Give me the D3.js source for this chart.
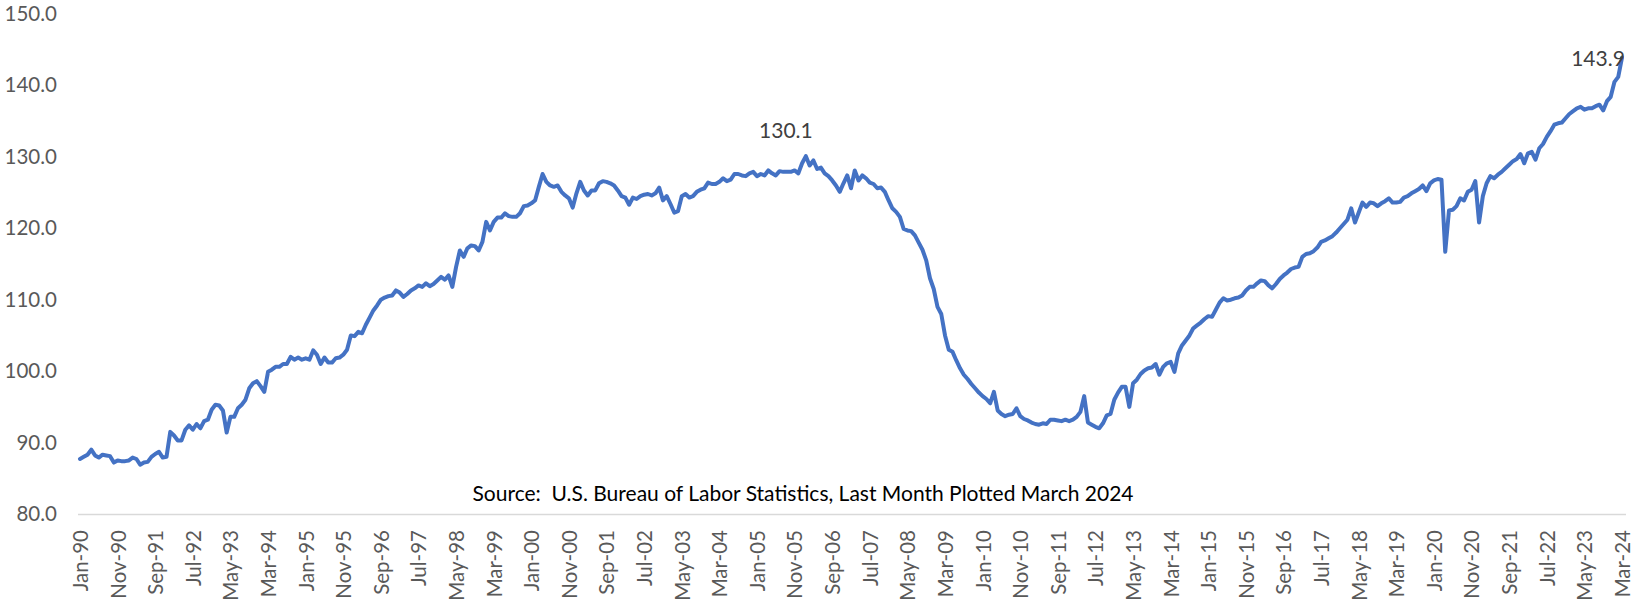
<!DOCTYPE html>
<html>
<head>
<meta charset="utf-8">
<script src="https://cdn.jsdelivr.net/npm/d3@7"></script>
<style>
  html, body { margin: 0; padding: 0; background: #ffffff; }
  svg { display: block; font-family: Lato, "Liberation Sans", sans-serif; }
</style>
</head>
<body>
<svg id="chart" width="1634" height="604"></svg>
<script>
// Monthly index values, January 1990 through March 2024
const values1990s = [
  87.7, 88.0, 88.3, 89.0, 88.2, 87.9, 88.3, 88.2, 88.1, 87.2, 87.5, 87.4,
  87.4, 87.5, 87.9, 87.7, 86.9, 87.2, 87.3, 88.0, 88.4, 88.7, 87.9, 88.0,
  91.5, 91.0, 90.3, 90.3, 91.8, 92.4, 91.8, 92.6, 92.0, 93.0, 93.2, 94.6,
  95.3, 95.2, 94.5, 91.4, 93.6, 93.6, 94.8, 95.3, 96.0, 97.6, 98.3, 98.6,
  97.9, 97.1, 99.9, 100.2, 100.6, 100.6, 101.0, 101.0, 102.0, 101.6, 101.9, 101.6,
  101.8, 101.6, 102.9, 102.3, 101.0, 101.9, 101.2, 101.2, 101.8, 101.9, 102.3, 103.0,
  105.0, 104.9, 105.5, 105.3, 106.5, 107.5, 108.5, 109.2, 110.0, 110.3, 110.5, 110.6,
  111.3, 111.0, 110.4, 110.8, 111.3, 111.6, 112.0, 111.8, 112.3, 111.9, 112.2, 112.7,
  113.2, 112.8, 113.4, 111.8, 114.6, 116.9, 116.0, 117.2, 117.6, 117.5, 116.9, 118.1,
  120.9, 119.7, 120.9, 121.5, 121.5, 122.1, 121.7, 121.6, 121.6, 122.1, 123.1, 123.2
];
const values2000s = [
  123.5, 123.9, 125.8, 127.6, 126.5, 126.0, 125.8, 126.0, 125.1, 124.6, 124.2, 122.9,
  124.9, 126.5, 125.3, 124.6, 125.3, 125.3, 126.3, 126.6, 126.5, 126.3, 126.0, 125.3,
  124.5, 124.3, 123.3, 124.3, 124.1, 124.5, 124.7, 124.8, 124.6, 124.9, 125.7, 123.9,
  124.5, 123.4, 122.2, 122.4, 124.5, 124.8, 124.3, 124.5, 125.1, 125.4, 125.6, 126.4,
  126.2, 126.2, 126.5, 127.0, 126.6, 126.8, 127.6, 127.6, 127.4, 127.3, 127.7, 127.9,
  127.3, 127.6, 127.4, 128.1, 127.7, 127.4, 128.0, 127.9, 127.9, 127.9, 128.1, 127.7,
  129.1, 130.1, 128.8, 129.5, 128.3, 128.5, 127.7, 127.3, 126.7, 126.0, 125.1, 126.3,
  127.4, 125.6, 128.1, 126.7, 127.4, 127.0, 126.4, 126.2, 125.6, 125.7, 125.1, 123.9,
  122.8, 122.3, 121.6, 119.9, 119.7, 119.6, 119.0, 118.0, 117.0, 115.5, 113.0, 111.5,
  109.0, 108.0, 105.0, 103.0, 102.7, 101.5, 100.4, 99.5, 98.9, 98.2, 97.6, 97.0
];
const values2010s = [
  96.5, 96.1, 95.5, 97.1, 94.5, 94.0, 93.7, 93.9, 94.0, 94.8, 93.7, 93.3,
  93.1, 92.8, 92.6, 92.5, 92.7, 92.6, 93.2, 93.2, 93.1, 93.0, 93.2, 93.0,
  93.2, 93.6, 94.3, 96.5, 92.8, 92.5, 92.2, 92.0, 92.7, 93.8, 94.0, 96.0,
  97.0, 97.8, 97.8, 95.0, 98.3, 98.8, 99.6, 100.1, 100.4, 100.5, 101.0, 99.5,
  100.6, 101.1, 101.3, 99.9, 102.5, 103.6, 104.3, 105.0, 106.0, 106.4, 106.8, 107.3,
  107.7, 107.6, 108.6, 109.6, 110.2, 109.9, 110.0, 110.2, 110.3, 110.6, 111.3, 111.8,
  111.8, 112.3, 112.7, 112.6, 112.0, 111.6, 112.2, 112.9, 113.4, 113.8, 114.3, 114.5,
  114.6, 116.0, 116.4, 116.5, 116.8, 117.3, 118.1, 118.3, 118.6, 118.9, 119.4, 120.0,
  120.6, 121.2, 122.8, 120.8, 122.2, 123.6, 123.0, 123.6, 123.5, 123.1, 123.5, 123.8,
  124.2, 123.6, 123.6, 123.7, 124.3, 124.5, 124.9, 125.2, 125.5, 126.0, 125.2, 126.3
];
const values2020s = [
  126.7, 126.9, 126.8, 116.7, 122.5, 122.6, 123.1, 124.2, 123.9, 125.1, 125.4, 126.6,
  120.8, 124.5, 126.3, 127.3, 127.0, 127.5, 127.9, 128.4, 128.9, 129.4, 129.7, 130.4,
  129.1, 130.5, 130.7, 129.6, 131.2, 131.8, 132.8, 133.6, 134.5, 134.7, 134.8, 135.4,
  136.0, 136.4, 136.8, 137.0, 136.6, 136.8, 136.8, 137.1, 137.3, 136.5, 137.8, 138.4,
  140.5, 141.2, 143.9
];

const firstYear = 1990;
const monthNames = ["Jan", "Feb", "Mar", "Apr", "May", "Jun", "Jul", "Aug", "Sep", "Oct", "Nov", "Dec"];
const yTicks = [80, 90, 100, 110, 120, 130, 140, 150];
const labelEvery = 10;               // one category label every ten months
const calloutMonths = ["Feb-06", "Mar-24"];
const sourceNote = "Source:  U.S. Bureau of Labor Statistics, Last Month Plotted March 2024";

const values = values1990s.concat(values2000s, values2010s, values2020s);
const categories = values.map((_, i) =>
  monthNames[i % 12] + "-" + String((firstYear + Math.floor(i / 12)) % 100).padStart(2, "0"));

const svg = d3.select("#chart");
const plot = { left: 80, right: 1622, top: 14, bottom: 514 };

const x = d3.scaleLinear().domain([0, values.length - 1]).range([plot.left, plot.right]);
const y = d3.scaleLinear().domain([80, 150]).range([plot.bottom, plot.top]);

// Value axis: labels only
const yAxis = svg.append("g")
  .attr("transform", `translate(${plot.left},0)`)
  .call(d3.axisLeft(y).tickValues(yTicks).tickSize(0).tickPadding(23)
    .tickFormat(d3.format(".1f")));
yAxis.select(".domain").remove();
yAxis.selectAll("text")
  .attr("font-family", "Lato, 'Liberation Sans', sans-serif")
  .attr("font-size", 20.5)
  .attr("fill", "#595959");

// Category axis: light baseline with rotated month labels
const tickIdx = d3.range(0, values.length, labelEvery);
const xAxis = svg.append("g")
  .attr("transform", `translate(0,${plot.bottom})`)
  .call(d3.axisBottom(x).tickValues(tickIdx).tickSize(0)
    .tickFormat(i => categories[i]));
xAxis.select(".domain")
  .attr("stroke", "#d9d9d9")
  .attr("stroke-width", 1.3)
  .attr("d", `M${plot.left - 2},0.5H${plot.right + 4}`);
xAxis.selectAll("text")
  .attr("font-family", "Lato, 'Liberation Sans', sans-serif")
  .attr("font-size", 20.5)
  .attr("fill", "#595959")
  .attr("text-anchor", "end")
  .attr("transform", "rotate(-90)")
  .attr("x", -16)
  .attr("y", 0)
  .attr("dy", "0.36em");

// Index line
const line = d3.line()
  .x((d, i) => x(i))
  .y(d => y(d));
svg.append("path")
  .datum(values)
  .attr("d", line)
  .attr("fill", "none")
  .attr("stroke", "#4472C4")
  .attr("stroke-width", 4)
  .attr("stroke-linejoin", "round")
  .attr("stroke-linecap", "round");

// Value callouts above the highlighted months
const calloutOffsets = { "Feb-06": [-20, -18], "Mar-24": [-24, 8] };
calloutMonths.forEach(m => {
  const i = categories.indexOf(m);
  const [dx, dy] = calloutOffsets[m];
  svg.append("text")
    .attr("x", x(i) + dx)
    .attr("y", y(values[i]) + dy)
    .attr("text-anchor", "middle")
    .attr("font-size", 21)
    .attr("fill", "#404040")
    .text(values[i].toFixed(1));
});

// Source note
svg.append("text")
  .attr("x", 803)
  .attr("y", 501)
  .attr("text-anchor", "middle")
  .attr("font-size", 21)
  .attr("fill", "#000000")
  .style("white-space", "pre")
  .text(sourceNote);
</script>
</body>
</html>
